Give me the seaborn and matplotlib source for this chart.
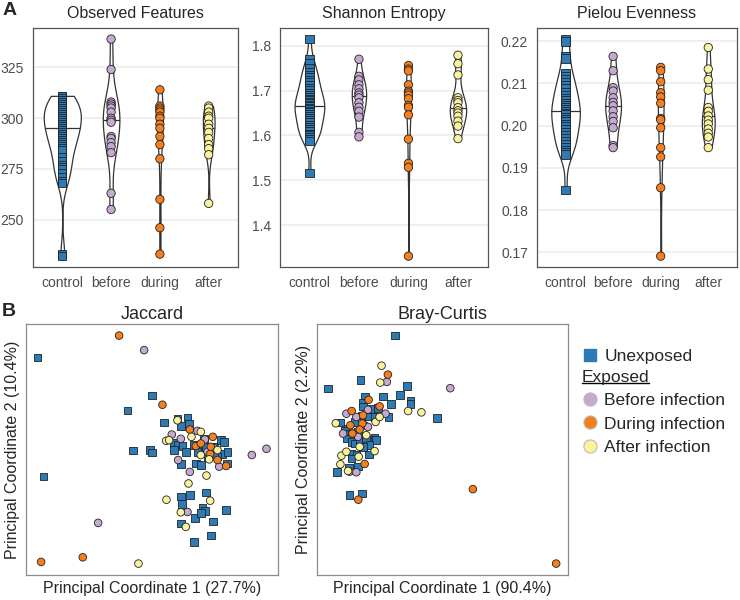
import matplotlib
matplotlib.use("Agg")
import matplotlib.pyplot as plt
from matplotlib.lines import Line2D
import pandas as pd
import seaborn as sns

GROUPS = ["control", "before", "during", "after"]
PALETTE = {"control": "#2c7bb6", "before": "#c6a9d1", "during": "#f47f1f", "after": "#f9f39c"}
MARKERS = {"control": "s", "before": "o", "during": "o", "after": "o"}

# --- alpha diversity (panel A) ---
observed_control = [311, 311, 310, 309, 309, 308, 307, 306, 306, 305, 304, 303, 303, 302, 301,
                    300, 300, 299, 298, 297, 296, 296, 295, 294, 293, 292, 291, 290, 289, 288,
                    287, 286, 285, 284, 281, 279, 277, 276, 275, 273, 271, 269, 268, 233, 232]
observed_before = [339, 324, 308, 307, 306, 305, 303, 300, 299, 298, 291, 290, 288, 286, 283, 263, 255]
observed_during = [314, 306, 305, 304, 303, 301, 300, 297, 295, 291, 287, 280, 260, 246, 233]
observed_after = [306, 305, 303, 301, 300, 297, 295, 293, 290, 287, 285, 282, 258]

shannon_control = [1.815, 1.770, 1.762, 1.750, 1.742, 1.735, 1.730, 1.724, 1.718, 1.712, 1.706,
                   1.700, 1.695, 1.690, 1.686, 1.682, 1.678, 1.674, 1.671, 1.668, 1.665, 1.662,
                   1.659, 1.655, 1.651, 1.647, 1.643, 1.639, 1.634, 1.629, 1.624, 1.619, 1.614,
                   1.609, 1.604, 1.600, 1.596, 1.592, 1.588, 1.517]
shannon_before = [1.770, 1.732, 1.724, 1.713, 1.704, 1.695, 1.690, 1.684, 1.673, 1.663, 1.654,
                  1.641, 1.607, 1.597]
shannon_during = [1.756, 1.748, 1.744, 1.713, 1.699, 1.695, 1.690, 1.682, 1.667, 1.663, 1.646,
                  1.592, 1.538, 1.529, 1.331]
shannon_after = [1.779, 1.760, 1.735, 1.684, 1.678, 1.673, 1.662, 1.655, 1.650, 1.643, 1.632,
                 1.621, 1.593]

pielou_control = [0.2205, 0.2199, 0.2164, 0.2159, 0.2125, 0.2118, 0.2110, 0.2102, 0.2095, 0.2088,
                  0.2080, 0.2072, 0.2066, 0.2060, 0.2054, 0.2048, 0.2043, 0.2038, 0.2034, 0.2030,
                  0.2026, 0.2021, 0.2016, 0.2010, 0.2004, 0.1998, 0.1992, 0.1985, 0.1978, 0.1971,
                  0.1964, 0.1957, 0.1950, 0.1943, 0.1937, 0.1932, 0.1848]
pielou_before = [0.2164, 0.2130, 0.2090, 0.2082, 0.2066, 0.2055, 0.2047, 0.2035, 0.2021, 0.2010,
                 0.1995, 0.1953, 0.1948]
pielou_during = [0.2138, 0.2130, 0.2104, 0.2078, 0.2068, 0.2053, 0.2017, 0.2014, 0.1995, 0.1948,
                 0.1926, 0.1853, 0.1691]
pielou_after = [0.2185, 0.2134, 0.2109, 0.2084, 0.2043, 0.2034, 0.2023, 0.2013, 0.2004, 0.1992,
                0.1982, 0.1973, 0.1948]

# widest point of each violin (fraction of a category slot)
observed_widths = [0.76, 0.34, 0.12, 0.24]
shannon_widths = [0.60, 0.29, 0.10, 0.33]
pielou_widths = [0.60, 0.33, 0.12, 0.27]

# --- PCoA coordinates (panel B) ---
jac_control_pc1 = [-0.340, -0.322, 0.003, -0.070, 0.040, -0.053, -0.003, 0.003, 0.080, 0.110,
                   0.090, 0.115, 0.070, 0.080, 0.095, 0.105, 0.130, 0.145, 0.160, 0.165, 0.190,
                   0.210, 0.220, 0.215, 0.230, 0.200, 0.190, 0.070, 0.090, 0.135, 0.150, 0.228,
                   0.170, 0.090, 0.118, 0.165, 0.093, 0.155, 0.162, 0.133, 0.150, 0.226, 0.186,
                   0.091, 0.180, 0.130, 0.140]
jac_control_pc2 = [0.280, -0.080, 0.165, 0.120, 0.083, -0.001, 0.001, -0.007, 0.095, 0.098,
                   0.072, 0.080, 0.022, 0.017, 0.013, -0.005, 0.016, 0.012, 0.035, 0.010, 0.010,
                   0.030, 0.025, -0.012, -0.005, -0.020, -0.012, 0.000, -0.042, -0.040, -0.045,
                   -0.040, -0.020, -0.140, -0.135, -0.128, -0.163, -0.175, -0.185, -0.205, -0.190,
                   -0.182, -0.216, -0.222, -0.258, -0.278, -0.005]
jac_before_pc1 = [-0.020, 0.347, 0.303, 0.063, 0.090, 0.082, 0.117, 0.140, 0.162, 0.205, 0.190,
                  0.110, -0.158, 0.170]
jac_before_pc2 = [0.302, 0.004, -0.015, 0.047, 0.034, -0.030, -0.066, 0.058, 0.032, -0.050, 0.006,
                  -0.187, -0.220, -0.005]
jac_during_pc1 = [-0.095, 0.035, 0.117, 0.135, 0.186, 0.180, 0.178, 0.226, -0.329, -0.204, 0.150,
                  0.200]
jac_during_pc2 = [0.346, 0.137, 0.062, 0.012, 0.040, 0.010, -0.012, -0.048, -0.338, -0.324, 0.020,
                  -0.030]
jac_after_pc1 = [0.080, 0.150, 0.122, 0.046, 0.150, 0.175, 0.167, 0.113, 0.047, 0.178, 0.090,
                 0.105, -0.037, 0.200, 0.055]
jac_after_pc2 = [0.090, 0.055, 0.040, 0.028, -0.015, -0.028, -0.077, -0.101, -0.150, -0.153,
                 -0.188, -0.232, -0.343, 0.000, 0.030]

bc_control_pc1 = [0.047, -0.155, -0.058, 0.083, 0.062, 0.035, 0.010, 0.093, 0.093, 0.173, -0.043,
                  -0.052, -0.050, -0.025, -0.005, -0.035, -0.015, 0.027, -0.055, -0.075, -0.095,
                  -0.105, -0.100, -0.085, -0.065, -0.100, -0.085, -0.075, -0.060, -0.040, -0.015,
                  -0.010, -0.030, -0.050, -0.085, -0.070, -0.085, -0.032, -0.128, -0.092, -0.065,
                  -0.091, -0.053, -0.118]
bc_control_pc2 = [0.296, 0.136, 0.162, 0.144, 0.117, 0.090, 0.112, 0.100, 0.090, 0.047, 0.112,
                  0.093, 0.082, 0.075, 0.078, 0.052, 0.050, 0.050, 0.055, 0.035, 0.015, 0.008,
                  0.000, 0.000, 0.005, -0.015, -0.025, -0.030, -0.020, -0.015, -0.012, -0.020,
                  -0.035, -0.040, -0.060, -0.065, -0.075, -0.063, -0.116, -0.103, -0.100, -0.185,
                  -0.181, 0.033]
bc_before_pc1 = [0.213, 0.022, -0.100, -0.035, 0.018, -0.110, -0.065, -0.045, -0.035, -0.090,
                 -0.070, -0.070]
bc_before_pc2 = [0.137, 0.156, 0.060, 0.072, 0.060, 0.000, -0.010, 0.025, 0.020, -0.115, -0.117,
                 0.050]
bc_during_pc1 = [0.025, -0.033, -0.084, 0.000, -0.050, -0.088, -0.052, -0.082, -0.060, -0.045,
                 -0.064, 0.281, 0.532]
bc_during_pc2 = [0.178, 0.102, 0.068, 0.082, 0.055, 0.025, 0.030, 0.000, 0.012, -0.092, -0.200,
                 -0.168, -0.393]
bc_after_pc1 = [0.006, 0.002, 0.086, 0.126, -0.132, -0.012, 0.000, -0.115, -0.118, -0.095, -0.063,
                -0.015, -0.060, -0.040, -0.100]
bc_after_pc2 = [0.205, 0.154, 0.068, 0.064, 0.031, 0.035, 0.050, -0.067, -0.093, -0.113, -0.070,
                -0.053, -0.040, -0.005, -0.055]

LEGEND_LABELS = ["Before infection", "During infection", "After infection"]


def alpha_frame(*columns):
    rows = [(g, v) for g, col in zip(GROUPS, columns) for v in col]
    return pd.DataFrame(rows, columns=["group", "value"])


def pcoa_frame(*pairs):
    rows = []
    for g, (xs, ys) in zip(GROUPS, pairs):
        rows += [(g, x, y) for x, y in zip(xs, ys)]
    return pd.DataFrame(rows, columns=["group", "pc1", "pc2"])


def violin_panel(ax, df, title, ticks, fmt, widths):
    # one violin per call so every violin gets its own width
    for g, w in zip(GROUPS, widths):
        sns.violinplot(data=df[df.group == g], x="group", y="value", order=GROUPS,
                       color="white", linecolor="#333333", linewidth=0.9, inner="quart",
                       inner_kws=dict(color="#333333", linewidth=0.9),
                       density_norm="width", cut=0, bw_adjust=0.8, width=w, ax=ax)
    # keep only the median line (ggplot draw_quantiles = 0.5)
    for k, ln in enumerate(ax.lines):
        if k % 3 == 1:
            ln.set_linestyle("-")
        else:
            ln.set_visible(False)
    is_ctrl = df.group == "control"
    for sel, mk in [(is_ctrl, "s"), (~is_ctrl, "o")]:
        sns.stripplot(data=df[sel], x="group", y="value", order=GROUPS, hue="group",
                      hue_order=GROUPS, palette=PALETTE, marker=mk, size=6, jitter=False,
                      linewidth=0.6, edgecolor="#222222", legend=False, ax=ax)
    lo, hi = df.value.min(), df.value.max()
    pad = 0.05 * (hi - lo)
    ax.set_ylim(lo - pad, hi + pad)
    ax.set_xlim(-0.6, 3.6)
    ax.set_yticks(ticks)
    ax.set_yticklabels([fmt.format(t) for t in ticks])
    ax.set_xlabel("")
    ax.set_ylabel("")
    ax.set_title(title, fontsize=11.5, pad=7)
    ax.grid(axis="y", color="#ebebeb", linewidth=1.1)
    ax.set_axisbelow(True)
    ax.tick_params(colors="#4d4d4d", labelsize=10, length=3, width=0.8)
    for s in ax.spines.values():
        s.set_color("#555555")
        s.set_linewidth(0.9)


def pcoa_panel(ax, df, title, xlabel, ylabel):
    sns.scatterplot(data=df, x="pc1", y="pc2", hue="group", style="group", hue_order=GROUPS,
                    style_order=GROUPS, palette=PALETTE, markers=MARKERS, s=30,
                    edgecolor="#222222", linewidth=0.6, legend=False, ax=ax)
    ax.margins(0.05)
    ax.set_xticks([])
    ax.set_yticks([])
    ax.set_title(title, fontsize=13, pad=4)
    ax.set_xlabel(xlabel, fontsize=11.5, labelpad=4)
    ax.set_ylabel(ylabel, fontsize=11.5, labelpad=4)
    for s in ax.spines.values():
        s.set_color("#8c8c8c")
        s.set_linewidth(0.9)


sns.set_style("white")
plt.rcParams["font.family"] = ["Liberation Sans", "DejaVu Sans"]

fig = plt.figure(figsize=(7.4, 6.0), dpi=100)

ax1 = fig.add_axes([0.0446, 0.555, 0.277, 0.398])
ax2 = fig.add_axes([0.378, 0.555, 0.281, 0.398])
ax3 = fig.add_axes([0.7257, 0.555, 0.270, 0.398])
violin_panel(ax1, alpha_frame(observed_control, observed_before, observed_during, observed_after),
             "Observed Features", [250, 275, 300, 325], "{:.0f}", observed_widths)
violin_panel(ax2, alpha_frame(shannon_control, shannon_before, shannon_during, shannon_after),
             "Shannon Entropy", [1.4, 1.5, 1.6, 1.7, 1.8], "{:.1f}", shannon_widths)
violin_panel(ax3, alpha_frame(pielou_control, pielou_before, pielou_during, pielou_after),
             "Pielou Evenness", [0.17, 0.18, 0.19, 0.20, 0.21, 0.22], "{:.2f}", pielou_widths)

bx1 = fig.add_axes([0.0351, 0.0417, 0.3405, 0.418])
bx2 = fig.add_axes([0.428, 0.0417, 0.339, 0.418])
pcoa_panel(bx1, pcoa_frame((jac_control_pc1, jac_control_pc2), (jac_before_pc1, jac_before_pc2),
                           (jac_during_pc1, jac_during_pc2), (jac_after_pc1, jac_after_pc2)),
           "Jaccard", "Principal Coordinate 1 (27.7%)", "Principal Coordinate 2 (10.4%)")
pcoa_panel(bx2, pcoa_frame((bc_control_pc1, bc_control_pc2), (bc_before_pc1, bc_before_pc2),
                           (bc_during_pc1, bc_during_pc2), (bc_after_pc1, bc_after_pc2)),
           "Bray-Curtis", "Principal Coordinate 1 (90.4%)", "Principal Coordinate 2 (2.2%)")

fig.text(0.003, 0.982, "A", fontsize=14, fontweight="bold", va="center")
fig.text(0.003, 0.481, "B", fontsize=14, fontweight="bold", va="center")

# legend: Unexposed on its own, then the exposed groups under an underlined heading
sq = Line2D([], [], linestyle="none", marker="s", markersize=8.5,
            markerfacecolor=PALETTE["control"], markeredgecolor=PALETTE["control"])
circles = [Line2D([], [], linestyle="none", marker="o", markersize=9.5,
                  markerfacecolor=PALETTE[g], markeredgecolor="#bbbbbb", markeredgewidth=0.8)
           for g in GROUPS[1:]]
leg1 = fig.legend([sq], ["Unexposed"], loc="upper left", bbox_to_anchor=(0.786, 0.419),
                  frameon=False, fontsize=12.5, handletextpad=0.3, handlelength=1.0,
                  borderaxespad=0, borderpad=0)
leg2 = fig.legend(circles, LEGEND_LABELS, loc="upper left", bbox_to_anchor=(0.786, 0.384),
                  frameon=False, fontsize=12.5, title="Exposed",
                  title_fontsize=12.5, alignment="left", handletextpad=0.3, handlelength=1.0,
                  labelspacing=0.48, borderaxespad=0, borderpad=0)

# underline the "Exposed" heading
fig.canvas.draw()
bb = leg2.get_title().get_window_extent().transformed(fig.transFigure.inverted())
fig.add_artist(Line2D([bb.x0, bb.x1], [bb.y0 + 0.002, bb.y0 + 0.002], color="black",
                      linewidth=1.0, transform=fig.transFigure))

fig.savefig("out.png", dpi=100)
